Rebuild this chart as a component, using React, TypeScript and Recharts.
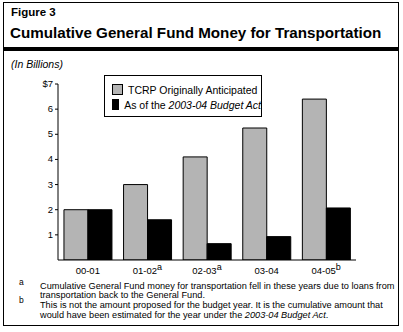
import React from "react";
import { BarChart, Bar, XAxis, YAxis, Legend } from "recharts";

const categories = ["00-01", "01-02", "02-03", "03-04", "04-05"];
const categoryNotes = ["", "a", "a", "", "b"];
const tcrpAnticipated = [2.0, 3.0, 4.1, 5.25, 6.4];
const budgetAct = [2.0, 1.6, 0.65, 0.93, 2.07];
const yTicks = [1, 2, 3, 4, 5, 6, 7];
const seriesNames = ["TCRP Originally Anticipated", "As of the 2003-04 Budget Act"];
const seriesColors = ["#b4b4b4", "#000000"];

const data = categories.map((c, i) => ({
  name: c,
  note: categoryNotes[i],
  tcrp: tcrpAnticipated[i],
  act: budgetAct[i],
}));

const FONT = "'Liberation Sans', Arial, Helvetica, sans-serif";

const XTick = (props: any) => {
  const { x, y, payload, index } = props;
  const note = categoryNotes[index] || "";
  return (
    <text x={x} y={y + 6} textAnchor="middle" fontSize={9.5} fontFamily={FONT} fill="#000">
      {payload.value}
      {note ? (
        <tspan dy={-4} fontSize={9}>
          {note}
        </tspan>
      ) : null}
    </text>
  );
};

const YTick = (props: any) => {
  const { x, y, payload } = props;
  const label = payload.value === 7 ? "$7" : String(payload.value);
  return (
    <text x={x} y={y + 3} textAnchor="end" fontSize={9.5} fontFamily={FONT} fill="#000">
      {label}
    </text>
  );
};

const renderSeriesName = (name: string) => {
  const key = "2003-04 Budget Act";
  const idx = name.indexOf(key);
  if (idx < 0) return name;
  return (
    <>
      {name.slice(0, idx)}
      <i>{key}</i>
    </>
  );
};

const LegendBox = () => (
  <div
    style={{
      border: "1px solid #000",
      background: "#fff",
      width: 158,
      height: 42,
      boxSizing: "border-box",
      padding: "6px 0 0 7px",
      fontFamily: FONT,
      fontSize: 10.5,
      color: "#000",
      textAlign: "left",
    }}
  >
    {seriesNames.map((n, i) => (
      <div key={n} style={{ display: "flex", alignItems: "center", height: 15 }}>
        <span
          style={{
            display: "inline-block",
            width: 9,
            height: 9,
            background: seriesColors[i],
            border: "1px solid #000",
            marginRight: 5,
          }}
        />
        <span style={{ whiteSpace: "nowrap" }}>{renderSeriesName(n)}</span>
      </div>
    ))}
  </div>
);

export default function App() {
  return (
    <div style={{ position: "absolute", left: 0, top: 0, width: 403, height: 332, background: "#fff", fontFamily: FONT }}>
      <div
        style={{
          position: "absolute",
          left: 3,
          top: 2,
          width: 396,
          height: 324,
          border: "1px solid #000",
          boxSizing: "border-box",
        }}
      />
      <div style={{ position: "absolute", left: 3, top: 47, width: 396, height: 4, background: "#000" }} />
      <div style={{ position: "absolute", left: 11, top: 6, fontSize: 11.5, fontWeight: "bold", color: "#000" }}>
        Figure 3
      </div>
      <div style={{ position: "absolute", left: 10, top: 24, fontSize: 15.2, fontWeight: "bold", color: "#000", whiteSpace: "nowrap" }}>
        Cumulative General Fund Money for Transportation
      </div>
      <div style={{ position: "absolute", left: 11, top: 58, fontSize: 10.5, fontStyle: "italic", color: "#000" }}>
        (In Billions)
      </div>

      <div style={{ position: "absolute", left: 0, top: 0 }}>
        <BarChart
          width={403}
          height={332}
          data={data}
          margin={{ top: 84, right: 47, bottom: 52, left: 0 }}
          barCategoryGap="10%"
          barGap={0}
        >
          <XAxis
            dataKey="name"
            axisLine={{ stroke: "#000", strokeWidth: 1 }}
            tickLine={false}
            tick={<XTick />}
            height={20}
            interval={0}
          />
          <YAxis
            domain={[0, 7]}
            ticks={yTicks}
            width={58}
            axisLine={{ stroke: "#000", strokeWidth: 1 }}
            tickLine={{ stroke: "#000" }}
            tickSize={3}
            tick={<YTick />}
            allowDataOverflow
          />
          <Bar dataKey="tcrp" name={seriesNames[0]} fill={seriesColors[0]} stroke="#000" strokeWidth={1} isAnimationActive={false} />
          <Bar dataKey="act" name={seriesNames[1]} fill={seriesColors[1]} stroke="#000" strokeWidth={1} isAnimationActive={false} />
          <Legend
            content={<LegendBox />}
            layout="horizontal"
            verticalAlign="middle"
            align="center"
            wrapperStyle={{ position: "absolute", left: 104, top: 75, width: 158, height: 42 }}
          />
        </BarChart>
      </div>

      <div style={{ position: "absolute", left: 0, top: 0, fontSize: 9.2, color: "#000", lineHeight: "10px" }}>
        <div style={{ position: "absolute", left: 19, top: 277, fontSize: 8.5 }}>a</div>
        <div style={{ position: "absolute", left: 40, top: 281, whiteSpace: "nowrap" }}>
          Cumulative General Fund money for transportation fell in these years due to loans from
        </div>
        <div style={{ position: "absolute", left: 40, top: 290, whiteSpace: "nowrap" }}>
          transportation back to the General Fund.
        </div>
        <div style={{ position: "absolute", left: 19, top: 295, fontSize: 8.5 }}>b</div>
        <div style={{ position: "absolute", left: 40, top: 300, whiteSpace: "nowrap" }}>
          This is not the amount proposed for the budget year. It is the cumulative amount that
        </div>
        <div style={{ position: "absolute", left: 40, top: 310, whiteSpace: "nowrap" }}>
          would have been estimated for the year under the <i>2003-04 Budget Act</i>.
        </div>
      </div>
    </div>
  );
}
